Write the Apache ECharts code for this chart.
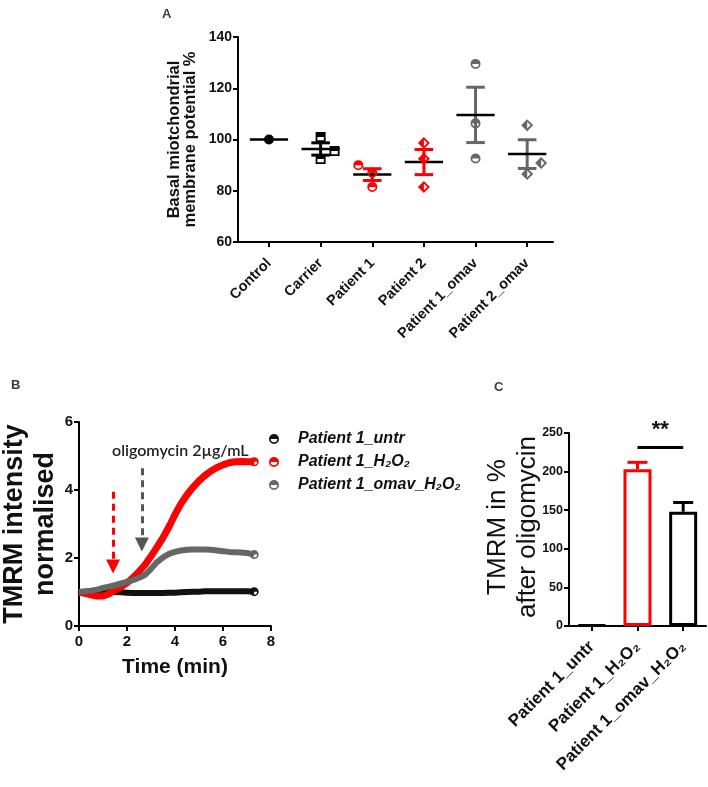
<!DOCTYPE html>
<html>
<head>
<meta charset="utf-8">
<script src="https://cdn.jsdelivr.net/npm/echarts@6/dist/echarts.min.js"></script>
<style>
  html, body { margin: 0; padding: 0; background: #fff; }
  #main { width: 708px; height: 787px; }
</style>
</head>
<body>
<div id="main"></div>
<script>
const FONT = '"Liberation Sans", Arial, sans-serif';

// panel A - basal membrane potential
const groupsA = ['Control', 'Carrier', 'Patient 1', 'Patient 2', 'Patient 1_omav', 'Patient 2_omav'];
const meanA = [100, 96.3, 86.3, 91.2, 109.6, 94.3];
const semA = [0, 2.4, 2.3, 4.9, 10.8, 5.6];
const pointsA = [
  [100],
  [101, 95.5, 92.4],
  [90, 87, 81.5],
  [98.6, 92.5, 81.5],
  [129.5, 106.3, 92.6],
  [105.6, 90.8, 86.5]
];
const jitterA = [
  [0],
  [0, 0.27, 0],
  [-0.27, 0, 0],
  [0, 0, 0],
  [0, 0, 0],
  [0, 0.27, 0]
];
const colorA = ['#000', '#000', '#f00', '#f00', '#666', '#666'];

// panel B - TMRM time course
const timeB = [0, 0.25, 0.5, 0.75, 1, 1.25, 1.5, 1.75, 2, 2.25, 2.5, 2.75, 3, 3.25, 3.5, 3.75,
  4, 4.25, 4.5, 4.75, 5, 5.25, 5.5, 5.75, 6, 6.25, 6.5, 6.75, 7, 7.3];
const untrB = [1.0, 1.0, 0.99, 0.99, 1.0, 1.0, 1.0, 0.99, 0.98, 0.97, 0.97, 0.97, 0.97, 0.97, 0.97, 0.98,
  0.98, 0.99, 1.0, 1.01, 1.01, 1.02, 1.02, 1.02, 1.02, 1.02, 1.02, 1.02, 1.02, 1.01];
const h2o2B = [1.0, 0.96, 0.92, 0.88, 0.88, 0.95, 1.06, 1.15, 1.27, 1.42, 1.6, 1.8, 2.05, 2.32, 2.6, 2.92,
  3.28, 3.6, 3.86, 4.08, 4.27, 4.43, 4.56, 4.66, 4.74, 4.8, 4.83, 4.84, 4.83, 4.83];
const omavB = [1.0, 1.02, 1.04, 1.07, 1.12, 1.16, 1.2, 1.25, 1.3, 1.35, 1.42, 1.5, 1.68, 1.88, 2.02, 2.12,
  2.18, 2.22, 2.24, 2.25, 2.25, 2.25, 2.24, 2.22, 2.2, 2.18, 2.17, 2.16, 2.15, 2.1];
const seriesNamesB = ['Patient 1_untr', 'Patient 1_H₂O₂', 'Patient 1_omav_H₂O₂'];
const h2o2Arrow = [[1.42, 3.95], [1.42, 1.75]];
const oligoArrow = [[2.62, 4.64], [2.62, 2.4]];

// panel C - TMRM after oligomycin
const catsC = ['Patient 1_untr', 'Patient 1_H₂O₂', 'Patient 1_omav_H₂O₂'];
const valC = [1, 203, 148];
const errC = [0, 9, 12];
const colorC = ['#000', '#f00', '#000'];
const sigC = [1, 2, 231];

const HALF_CIRCLE = 'path://M0,10A10,10 0 0 1 20,10Z M0,10A10,10 0 0 0 20,10L16.5,10A6.5,6.5 0 0 1 3.5,10Z';
const HALF_DIAMOND = 'path://M10,0L0,10L10,20Z M10,0L20,10L10,20L10,15.5L15.5,10L10,4.5Z';
const HALF_SQUARE = 'path://M0,0L20,0L20,10L0,10Z M0,10L0,20L20,20L20,10L16.5,10L16.5,16.5L3.5,16.5L3.5,10Z';
const symbolA = ['circle', HALF_SQUARE, HALF_CIRCLE, HALF_DIAMOND, HALF_CIRCLE, HALF_DIAMOND];
const sizeA = [10, 10, 10, 12, 10, 12];

const chart = echarts.init(document.getElementById('main'), null, { renderer: 'canvas' });

const axisLine = { show: true, onZero: false, lineStyle: { color: '#000', width: 2 } };
const axisTick = { show: true, length: 5, lineStyle: { color: '#000', width: 2 } };

const scatterA = groupsA.map((g, i) => ({
  name: g,
  type: 'scatter',
  xAxisIndex: 0,
  yAxisIndex: 0,
  symbol: symbolA[i],
  symbolSize: sizeA[i],
  itemStyle: { color: colorA[i], opacity: 1 },
  z: 5,
  data: pointsA[i].map((v, k) => [i + jitterA[i][k], v])
}));

const lineB = (name, vals, color, width, z) => ({
  name: name,
  type: 'line',
  xAxisIndex: 1,
  yAxisIndex: 1,
  symbol: 'none',
  showSymbol: true,
  showAllSymbol: true,
  z: z,
  itemStyle: { color: color },
  lineStyle: { color: color, width: width },
  data: vals.map((v, i) => i === vals.length - 1
    ? { value: [timeB[i], v], symbol: HALF_CIRCLE, symbolSize: 9 }
    : [timeB[i], v])
});

const arrowLine = (pts, color) => ({
  silent: true,
  symbol: ['none', 'triangle'],
  symbolSize: 14,
  label: { show: false },
  lineStyle: { color: color, width: 3, type: [7, 5] },
  itemStyle: { color: color },
  data: [[{ coord: pts[0] }, { coord: pts[1] }]]
});

const redLine = lineB(seriesNamesB[1], h2o2B, '#f00', 7, 3);
redLine.markLine = arrowLine(h2o2Arrow, '#f00');
const grayLine = lineB(seriesNamesB[2], omavB, '#666', 6, 4);
grayLine.markLine = arrowLine(oligoArrow, '#555');

chart.setOption({
  animation: false,
  backgroundColor: '#fff',
  textStyle: { fontFamily: FONT },
  title: [
    { text: 'A', left: 157, top: 3, textStyle: { fontSize: 13, fontWeight: 'bold', fontFamily: FONT } },
    { text: 'B', left: 6, top: 374, textStyle: { fontSize: 13, fontWeight: 'bold', fontFamily: FONT } },
    { text: 'C', left: 489, top: 376, textStyle: { fontSize: 13, fontWeight: 'bold', fontFamily: FONT } }
  ],
  graphic: [
    {
      type: 'text',
      left: 112,
      top: 443,
      style: { text: 'oligomycin 2µg/mL', font: '600 16px Lato, "Open Sans", sans-serif', fill: '#222' }
    },
    {
      // y-axis title of panel C
      type: 'text',
      x: 513,
      y: 527,
      rotation: Math.PI / 2,
      style: {
        text: 'TMRM in %\nafter oligomycin',
        font: '26px ' + FONT,
        fill: '#111',
        align: 'center',
        verticalAlign: 'middle',
        lineHeight: 30
      }
    }
  ],
  legend: {
    orient: 'vertical',
    left: 264,
    top: 426,
    itemWidth: 38,
    itemHeight: 10,
    itemGap: 7,
    symbolKeepAspect: true,
    textStyle: { fontSize: 16, fontWeight: 'bold', fontStyle: 'italic', color: '#111', fontFamily: FONT },
    data: seriesNamesB.map(n => ({ name: n, icon: HALF_CIRCLE }))
  },
  grid: [
    { left: 238, top: 37, width: 315, height: 205, outerBoundsMode: 'none', containLabel: false },
    { left: 79, top: 422, width: 192, height: 204, outerBoundsMode: 'none', containLabel: false },
    { left: 569, top: 433, width: 137, height: 193, outerBoundsMode: 'none', containLabel: false }
  ],
  xAxis: [
    {
      gridIndex: 0, type: 'value', min: -0.6, max: 5.5,
      axisLine, splitLine: { show: false },
      axisTick: Object.assign({ customValues: [0, 1, 2, 3, 4, 5] }, axisTick),
      axisLabel: {
        customValues: [0, 1, 2, 3, 4, 5],
        formatter: v => groupsA[Math.round(v)],
        rotate: 45, margin: 19, fontSize: 14.5, fontWeight: 'bold', color: '#111'
      }
    },
    {
      gridIndex: 1, type: 'value', min: 0, max: 8, interval: 2,
      axisLine, axisTick, splitLine: { show: false },
      axisLabel: { fontSize: 15, fontWeight: 'bold', color: '#111', margin: 8 },
      name: 'Time (min)', nameLocation: 'middle', nameGap: 31,
      nameTextStyle: { fontSize: 21, fontWeight: 'bold', color: '#111' }
    },
    {
      gridIndex: 2, type: 'category', data: catsC,
      axisLine, axisTick: Object.assign({ alignWithLabel: true }, axisTick),
      axisLabel: { rotate: 45, fontSize: 17, fontWeight: 'bold', color: '#111', margin: 18, interval: 0 }
    }
  ],
  yAxis: [
    {
      gridIndex: 0, min: 60, max: 140, interval: 20,
      axisLine, axisTick, splitLine: { show: false },
      axisLabel: { fontSize: 14, fontWeight: 'bold', color: '#111', margin: 6 },
      name: 'Basal miotchondrial\nmembrane potential %', nameLocation: 'middle', nameGap: 39,
      nameTextStyle: { fontSize: 16.5, fontWeight: 'bold', color: '#111', lineHeight: 16.5 }
    },
    {
      gridIndex: 1, min: 0, max: 6, interval: 2,
      axisLine, axisTick, splitLine: { show: false },
      axisLabel: { fontSize: 15, fontWeight: 'bold', color: '#111', margin: 6 },
      name: 'TMRM intensity\nnormalised', nameLocation: 'middle', nameGap: 17,
      nameTextStyle: { fontSize: 27, fontWeight: 'bold', color: '#111', lineHeight: 31 }
    },
    {
      gridIndex: 2, min: 0, max: 250, interval: 50,
      axisLine, axisTick, splitLine: { show: false },
      axisLabel: { fontSize: 12.5, fontWeight: 'bold', color: '#111', margin: 6 }
    }
  ],
  series: [
    ...scatterA,
    {
      type: 'custom',
      xAxisIndex: 0,
      yAxisIndex: 0,
      z: 4,
      data: groupsA.map((g, i) => [i, meanA[i], semA[i]]),
      renderItem: (params, api) => {
        const i = api.value(0), m = api.value(1), s = api.value(2);
        const c = colorA[i];
        const kids = [];
        const seg = (a, b, color, w) => ({
          type: 'line',
          shape: { x1: a[0], y1: a[1], x2: b[0], y2: b[1] },
          style: { stroke: color, lineWidth: w }
        });
        if (s > 0) {
          kids.push(seg(api.coord([i, m - s]), api.coord([i, m + s]), c, 3));
          kids.push(seg(api.coord([i - 0.18, m + s]), api.coord([i + 0.18, m + s]), c, 3));
          kids.push(seg(api.coord([i - 0.18, m - s]), api.coord([i + 0.18, m - s]), c, 3));
        }
        kids.push(seg(api.coord([i - 0.37, m]), api.coord([i + 0.37, m]), '#000', 2.5));
        return { type: 'group', children: kids };
      }
    },
    lineB(seriesNamesB[0], untrB, '#111', 6, 2),
    redLine,
    grayLine,
    {
      type: 'bar',
      xAxisIndex: 2,
      yAxisIndex: 2,
      barWidth: 28,
      data: valC.map((v, i) => ({
        value: v,
        itemStyle: { color: '#fff', borderColor: colorC[i], borderWidth: 3 }
      })),
      markLine: {
        silent: true,
        symbol: ['none', 'none'],
        lineStyle: { color: '#000', width: 3, type: 'solid' },
        label: { show: true, position: 'middle', formatter: '**', fontSize: 22, fontWeight: 'bold', color: '#111', distance: 7 },
        data: [[{ coord: [sigC[0], sigC[2]] }, { coord: [sigC[1], sigC[2]] }]]
      }
    },
    {
      type: 'custom',
      xAxisIndex: 2,
      yAxisIndex: 2,
      data: valC.map((v, i) => [i, v, errC[i]]),
      renderItem: (params, api) => {
        const i = api.value(0), v = api.value(1), e = api.value(2);
        if (!(e > 0)) return null;
        const base = api.coord([i, v]);
        const top = api.coord([i, v + e]);
        const st = { stroke: colorC[i], lineWidth: 3 };
        return {
          type: 'group',
          children: [
            { type: 'line', shape: { x1: base[0], y1: base[1], x2: top[0], y2: top[1] }, style: st },
            { type: 'line', shape: { x1: top[0] - 10, y1: top[1], x2: top[0] + 10, y2: top[1] }, style: st }
          ]
        };
      }
    }
  ]
});
</script>
</body>
</html>
